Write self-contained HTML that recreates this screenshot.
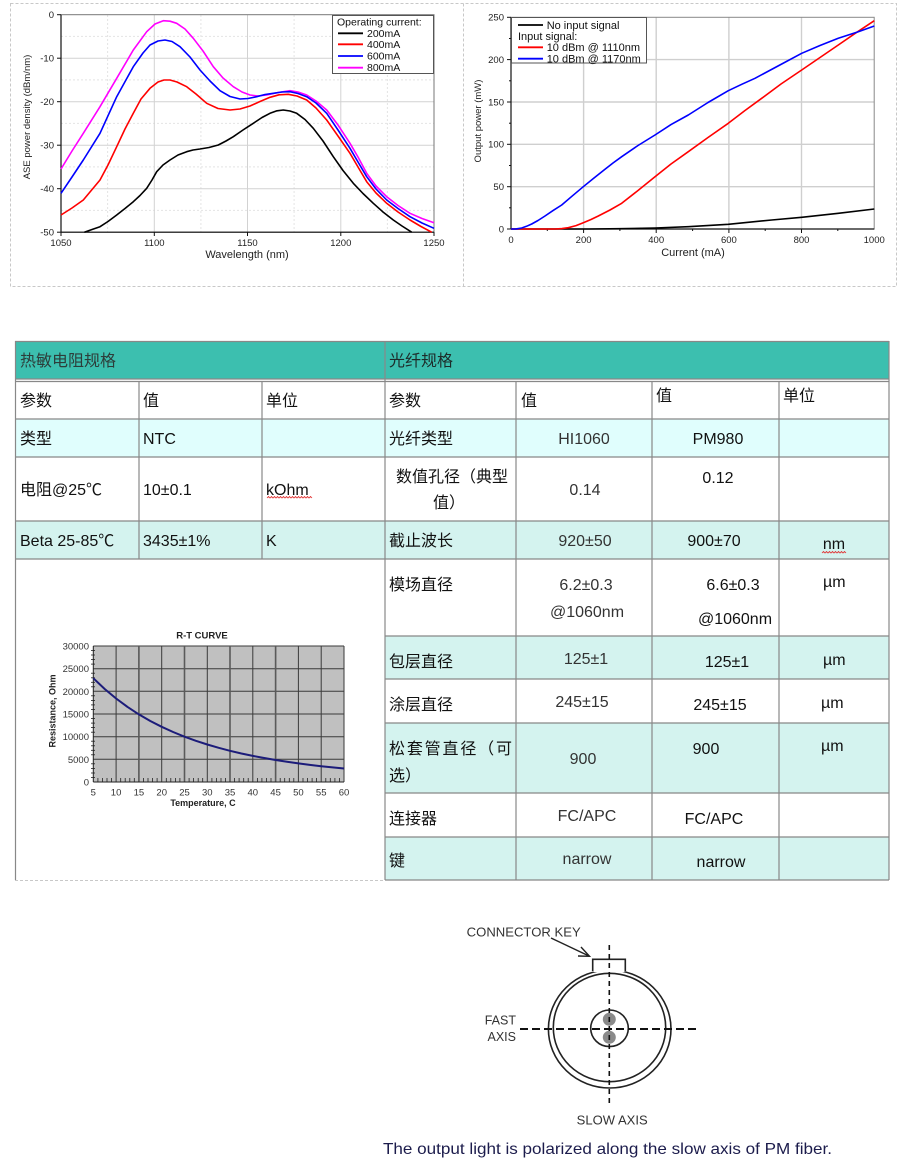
<!DOCTYPE html>
<html><head><meta charset="utf-8"><style>
html,body{margin:0;padding:0;background:#fff;}
svg{display:block;}
.t{font-family:"Liberation Sans","Noto Sans CJK SC",sans-serif;font-size:16px;fill:#111;}
.a{font-family:"Liberation Sans",Arial,sans-serif;}
</style></head><body>
<svg width="907" height="1169" viewBox="0 0 907 1169" xmlns="http://www.w3.org/2000/svg">
<!-- top dashed frame -->
<rect x="10.5" y="3.5" width="886" height="283" fill="none" stroke="#c8c8c8" stroke-dasharray="3,2"/>
<line x1="463.5" y1="3.5" x2="463.5" y2="286.5" stroke="#c8c8c8" stroke-dasharray="3,2"/>

<!-- ===== LEFT CHART ===== -->
<g stroke="#e4e4e4" stroke-width="1" stroke-dasharray="2,2">
<line x1="107.6" y1="15" x2="107.6" y2="232"/><line x1="200.9" y1="15" x2="200.9" y2="232"/>
<line x1="294.1" y1="15" x2="294.1" y2="232"/><line x1="387.4" y1="15" x2="387.4" y2="232"/>
<line x1="61" y1="36.4" x2="434" y2="36.4"/><line x1="61" y1="79.9" x2="434" y2="79.9"/>
<line x1="61" y1="123.4" x2="434" y2="123.4"/><line x1="61" y1="166.9" x2="434" y2="166.9"/>
<line x1="61" y1="210.4" x2="434" y2="210.4"/>
</g>
<g stroke="#d2d2d2" stroke-width="1">
<line x1="154.3" y1="15" x2="154.3" y2="232"/><line x1="247.5" y1="15" x2="247.5" y2="232"/>
<line x1="340.8" y1="15" x2="340.8" y2="232"/>
<line x1="61" y1="58.2" x2="434" y2="58.2"/><line x1="61" y1="101.7" x2="434" y2="101.7"/>
<line x1="61" y1="145.2" x2="434" y2="145.2"/><line x1="61" y1="188.7" x2="434" y2="188.7"/>
</g>
<rect x="61" y="14.7" width="373" height="217.5" fill="none" stroke="#777" stroke-width="1"/>
<line x1="61" y1="14.7" x2="61" y2="232.2" stroke="#111" stroke-width="1.2"/>
<line x1="61" y1="232.2" x2="434" y2="232.2" stroke="#111" stroke-width="1.2"/>
<g stroke="#111" stroke-width="1">
<line x1="154.3" y1="232" x2="154.3" y2="236"/><line x1="247.5" y1="232" x2="247.5" y2="236"/><line x1="340.8" y1="232" x2="340.8" y2="236"/><line x1="434" y1="232" x2="434" y2="236"/><line x1="61" y1="232" x2="61" y2="236"/>
<line x1="57" y1="14.7" x2="61" y2="14.7"/><line x1="57" y1="58.2" x2="61" y2="58.2"/><line x1="57" y1="101.7" x2="61" y2="101.7"/><line x1="57" y1="145.2" x2="61" y2="145.2"/><line x1="57" y1="188.7" x2="61" y2="188.7"/><line x1="57" y1="232.2" x2="61" y2="232.2"/>
</g>
<g class="a" font-size="9.5" fill="#222" text-anchor="end">
<text x="54" y="18">0</text><text x="54" y="61.5">-10</text><text x="54" y="105">-20</text>
<text x="54" y="148.5">-30</text><text x="54" y="192">-40</text><text x="54" y="235.5">-50</text>
</g>
<g class="a" font-size="9.5" fill="#222" text-anchor="middle">
<text x="61" y="246">1050</text><text x="154.3" y="246">1100</text><text x="247.5" y="246">1150</text>
<text x="340.8" y="246">1200</text><text x="434" y="246">1250</text>
</g>
<text class="a" x="247" y="258" font-size="11" fill="#222" text-anchor="middle">Wavelength (nm)</text>
<text class="a" transform="translate(30,117) rotate(-90)" font-size="9.5" fill="#222" text-anchor="middle">ASE power density (dBm/nm)</text>

<g fill="none" stroke-width="1.6" stroke-linejoin="round">
<polyline stroke="#ff00ff" points="61,169 72,151 83.3,133.3 100,106.7 116.7,78.3 133.3,50 146.7,31.7 155,24 163.3,20.7 170,21.2 176.7,23.3 185,29 193.3,38.3 203,51 213.3,66.7 223,78 233.3,86.7 242,92 250,95 258,96 266.7,95 278,92.5 290,90.7 298,92 306.7,95 316,101 326.7,110 338,125 350,143.3 358,157 366.7,173.3 376,186 386.7,196.7 398,205.5 410,213.3 422,218.5 434,222.7"/>
<polyline stroke="#0000ff" points="61,193.3 72,177 83.3,160 100,133.3 116.7,96.7 133.3,66.7 143,53 150,45 158,41 165,40 172,41.5 180,46.7 190,57 200,70 210,81 220,90.7 230,96.5 240,99 248,98.5 256.7,96.7 265,94.5 273.3,93.3 282,92 290,91.7 298,93.5 306.7,96.7 316,103 326.7,113.3 338,130 350,148.3 358,162 366.7,176.7 376,189 386.7,200 398,208.5 410,216.7 422,223 434,228.3"/>
<polyline stroke="#ff0000" points="61,215 72,208 83.3,200 100,180 108,165 116.7,146.7 125,129 133.3,113.3 141,99 150,88.3 158,82 164,80 170,80 177,82 186.7,86.7 196,94 206.7,103.3 218,108.5 230,110 240,109 250,106 260,101.5 270,97.3 279,94.8 288.3,94.3 297,96 306.7,100 316,108 326.7,120 338,136 350,153.3 358,167 366.7,181.7 376,193 386.7,203.3 398,212 410,220 421,226.5 431.7,232.2"/>
<polyline stroke="#000" points="84.3,232.2 92,229.5 100,226.7 108,221.5 116.7,215 125,208.5 133.3,201.7 140,195.5 146.7,188.3 152,180 156.7,171.7 163,165 170,160 178,155 186.7,151.7 193,150 200,149 209,147.5 218.3,145 226,141 233.3,136.7 243,130 253.3,123.3 262,117.5 270,113.3 277,110.8 283.3,110 290,111 296.7,113.3 305,119.5 313.3,128.3 323,141 333.3,156.7 343,170.5 353.3,183.3 363,193.5 373.3,203.3 383,212 393.3,220 402,226 411.7,232.2"/>
</g>
<rect x="332.5" y="15.5" width="101" height="58" fill="#fff" stroke="#555" stroke-width="1"/>
<g class="a" font-size="10.5" fill="#111">
<text x="337" y="25.5">Operating current:</text>
<text x="367" y="37">200mA</text><text x="367" y="48">400mA</text>
<text x="367" y="59.5">600mA</text><text x="367" y="71">800mA</text>
</g>
<g stroke-width="1.8">
<line x1="338" y1="33.3" x2="363" y2="33.3" stroke="#000"/>
<line x1="338" y1="44.3" x2="363" y2="44.3" stroke="#ff0000"/>
<line x1="338" y1="56" x2="363" y2="56" stroke="#0000ff"/>
<line x1="338" y1="67.7" x2="363" y2="67.7" stroke="#ff00ff"/>
</g>

<!-- ===== RIGHT CHART ===== -->
<g stroke="#cfcfcf" stroke-width="1.4">
<line x1="583.6" y1="17.3" x2="583.6" y2="229"/><line x1="656.2" y1="17.3" x2="656.2" y2="229"/>
<line x1="728.9" y1="17.3" x2="728.9" y2="229"/><line x1="801.5" y1="17.3" x2="801.5" y2="229"/>
<line x1="511" y1="186.7" x2="874.2" y2="186.7"/><line x1="511" y1="144.3" x2="874.2" y2="144.3"/>
<line x1="511" y1="102" x2="874.2" y2="102"/><line x1="511" y1="59.6" x2="874.2" y2="59.6"/>
</g>
<rect x="511" y="17.3" width="363.2" height="211.7" fill="none" stroke="#888" stroke-width="1"/>
<line x1="511" y1="17.3" x2="511" y2="229" stroke="#111" stroke-width="1.2"/>
<line x1="511" y1="229" x2="874.2" y2="229" stroke="#111" stroke-width="1.2"/>
<g stroke="#111" stroke-width="1">
<line x1="547.3" y1="229" x2="547.3" y2="231"/><line x1="583.6" y1="229" x2="583.6" y2="233"/><line x1="619.9" y1="229" x2="619.9" y2="231"/><line x1="656.2" y1="229" x2="656.2" y2="233"/><line x1="692.6" y1="229" x2="692.6" y2="231"/><line x1="728.9" y1="229" x2="728.9" y2="233"/><line x1="765.2" y1="229" x2="765.2" y2="231"/><line x1="801.5" y1="229" x2="801.5" y2="233"/><line x1="837.8" y1="229" x2="837.8" y2="231"/>
<line x1="507" y1="17.3" x2="511" y2="17.3"/><line x1="507" y1="59.6" x2="511" y2="59.6"/><line x1="507" y1="102" x2="511" y2="102"/><line x1="507" y1="144.3" x2="511" y2="144.3"/><line x1="507" y1="186.7" x2="511" y2="186.7"/><line x1="507" y1="229" x2="511" y2="229"/>
<line x1="509" y1="38.5" x2="511" y2="38.5"/><line x1="509" y1="80.8" x2="511" y2="80.8"/><line x1="509" y1="123.2" x2="511" y2="123.2"/><line x1="509" y1="165.5" x2="511" y2="165.5"/><line x1="509" y1="207.8" x2="511" y2="207.8"/>
</g>
<g class="a" font-size="9.5" fill="#222" text-anchor="end">
<text x="504" y="20.5">250</text><text x="504" y="63">200</text><text x="504" y="105.5">150</text>
<text x="504" y="147.5">100</text><text x="504" y="190">50</text><text x="504" y="232.5">0</text>
</g>
<g class="a" font-size="9.5" fill="#222" text-anchor="middle">
<text x="511" y="243">0</text><text x="583.6" y="243">200</text><text x="656.2" y="243">400</text>
<text x="728.9" y="243">600</text><text x="801.5" y="243">800</text><text x="874.2" y="243">1000</text>
</g>
<text class="a" x="693" y="256" font-size="11" fill="#222" text-anchor="middle">Current (mA)</text>
<text class="a" transform="translate(481,121) rotate(-90)" font-size="9.5" fill="#222" text-anchor="middle">Output power (mW)</text>
<g fill="none" stroke-width="1.6" stroke-linejoin="round">
<polyline stroke="#000" points="511,229 588.3,229 620,228.7 655,228 688.3,226.7 728.3,224.3 771.7,220 801.7,217.3 838.3,213.3 874.3,209"/>
<polyline stroke="#ff0000" points="511,229 555,229 562,228.6 568.3,227.7 576,225.6 583.3,222.7 591,219.5 598.3,216 610,210 621.7,203.3 638,190.5 655,176.7 671,164 688.3,151.7 708,137.5 728.3,123.3 745,110.5 761.7,98.3 781,84 801.7,70 820,57.5 838.3,45 856,32.8 874.3,20.7"/>
<polyline stroke="#0000ff" points="511,229 516,228.9 521.7,228 526.5,226.3 531.7,224 538,220.5 545,216 553,210.6 561.7,205 572,196.2 583.3,186.7 594,178 605,169.3 613,163 621.7,156.7 638,145.5 655,135 671,124.6 688.3,115 708,102.5 728.3,90.7 742,84.2 755,78.3 778,66 801.7,53.3 820,45.5 838.3,38.3 858.3,31.7 874.3,26"/>
</g>
<rect x="511.5" y="17.5" width="135" height="45.5" fill="#fff" stroke="#555" stroke-width="1"/>
<g class="a" font-size="11" fill="#111">
<text x="546.7" y="28.8">No input signal</text>
<text x="518" y="40">Input signal:</text>
<text x="546.7" y="51.2">10 dBm @ 1110nm</text>
<text x="546.7" y="62.5">10 dBm @ 1170nm</text>
</g>
<g stroke-width="1.8">
<line x1="518" y1="25" x2="543" y2="25" stroke="#000"/>
<line x1="518" y1="47.3" x2="543" y2="47.3" stroke="#ff0000"/>
<line x1="518" y1="58.7" x2="543" y2="58.7" stroke="#0000ff"/>
</g>

<!-- ===== TABLE ===== -->
<rect x="15" y="341" width="874" height="38" fill="#3cbfaf"/>
<rect x="15" y="419" width="874" height="38" fill="#e0fefd"/>
<rect x="15" y="521" width="874" height="38" fill="#d4f3ef"/>
<rect x="385" y="636" width="504" height="43" fill="#d4f3ef"/>
<rect x="385" y="723" width="504" height="70" fill="#d4f3ef"/>
<rect x="385" y="837" width="504" height="43" fill="#d4f3ef"/>
<g stroke="#888" stroke-width="1.2">
<line x1="15" y1="341.5" x2="889" y2="341.5"/>
<line x1="15" y1="379" x2="889" y2="379"/>
<line x1="15" y1="381.5" x2="889" y2="381.5"/>
<line x1="15" y1="419" x2="889" y2="419"/>
<line x1="15" y1="457" x2="889" y2="457"/>
<line x1="15" y1="521" x2="889" y2="521"/>
<line x1="15" y1="559" x2="889" y2="559"/>
<line x1="385" y1="636" x2="889" y2="636"/>
<line x1="385" y1="679" x2="889" y2="679"/>
<line x1="385" y1="723" x2="889" y2="723"/>
<line x1="385" y1="793" x2="889" y2="793"/>
<line x1="385" y1="837" x2="889" y2="837"/>
<line x1="385" y1="880" x2="889" y2="880"/>
<line x1="15.5" y1="341" x2="15.5" y2="880"/>
<line x1="385" y1="341" x2="385" y2="880"/>
<line x1="889" y1="341" x2="889" y2="880"/>
<line x1="139" y1="381" x2="139" y2="559"/>
<line x1="262" y1="381" x2="262" y2="559"/>
<line x1="516" y1="381" x2="516" y2="880"/>
<line x1="652" y1="381" x2="652" y2="880"/>
<line x1="779" y1="381" x2="779" y2="880"/>
</g>
<line x1="15" y1="880.5" x2="385" y2="880.5" stroke="#c8c8c8" stroke-dasharray="3,2"/>

<g class="t">
<text x="20" y="366" fill="#2d3d3a">热敏电阻规格</text>
<text x="389" y="366" fill="#1d2b29">光纤规格</text>
<text x="20" y="406">参数</text><text x="143" y="406">值</text><text x="266" y="406">单位</text>
<text x="389" y="406">参数</text><text x="521" y="406">值</text><text x="656" y="401">值</text><text x="783" y="401">单位</text>
<text x="20" y="444">类型</text><text x="143" y="444">NTC</text><text x="389" y="444">光纤类型</text>
<text x="584" y="444" text-anchor="middle" fill="#333">HI1060</text>
<text x="718" y="444" text-anchor="middle">PM980</text>
<text x="20" y="495">电阻@25℃</text><text x="143" y="495">10±0.1</text><text x="266" y="495">kOhm</text>
<text x="452" y="482" text-anchor="middle">数值孔径（典型</text>
<text x="449" y="508" text-anchor="middle">值）</text>
<text x="585" y="495" text-anchor="middle" fill="#333">0.14</text>
<text x="718" y="483" text-anchor="middle">0.12</text>
<text x="20" y="546">Beta  25-85℃</text><text x="143" y="546">3435±1%</text><text x="266" y="546">K</text>
<text x="389" y="546">截止波长</text>
<text x="585" y="546" text-anchor="middle" fill="#333">920±50</text>
<text x="714" y="546" text-anchor="middle">900±70</text>
<text x="834" y="549" text-anchor="middle">nm</text>
<text x="389" y="590">模场直径</text>
<text x="586" y="590" text-anchor="middle" fill="#333">6.2±0.3</text>
<text x="587" y="617" text-anchor="middle" fill="#333">@1060nm</text>
<text x="733" y="590" text-anchor="middle">6.6±0.3</text>
<text x="735" y="624" text-anchor="middle">@1060nm</text>
<text x="823" y="587">µm</text>
<text x="389" y="667">包层直径</text>
<text x="586" y="664" text-anchor="middle" fill="#333">125±1</text>
<text x="727" y="667" text-anchor="middle">125±1</text>
<text x="823" y="665">µm</text>
<text x="389" y="710">涂层直径</text>
<text x="582" y="707" text-anchor="middle" fill="#333">245±15</text>
<text x="720" y="710" text-anchor="middle">245±15</text>
<text x="821" y="708">µm</text>
<text x="389" y="754" textLength="123" lengthAdjust="spacing">松套管直径（可</text>
<text x="389" y="781">选）</text>
<text x="583" y="764" text-anchor="middle" fill="#333">900</text>
<text x="706" y="754" text-anchor="middle">900</text>
<text x="821" y="751">µm</text>
<text x="389" y="824">连接器</text>
<text x="587" y="821" text-anchor="middle" fill="#333">FC/APC</text>
<text x="714" y="824" text-anchor="middle">FC/APC</text>
<text x="389" y="866">键</text>
<text x="587" y="864" text-anchor="middle" fill="#333">narrow</text>
<text x="721" y="867" text-anchor="middle">narrow</text>
</g>
<!-- spell squiggles -->
<polyline fill="none" stroke="#e03030" stroke-width="0.8" points="267,498 268.5,496.5 270,498 271.5,496.5 273,498 274.5,496.5 276,498 277.5,496.5 279,498 280.5,496.5 282,498 283.5,496.5 285,498 286.5,496.5 288,498 289.5,496.5 291,498 292.5,496.5 294,498 295.5,496.5 297,498 298.5,496.5 300,498 301.5,496.5 303,498 304.5,496.5 306,498 307.5,496.5 309,498 310.5,496.5 312,498"/>
<polyline fill="none" stroke="#e03030" stroke-width="0.8" points="822,553 823.5,551.5 825,553 826.5,551.5 828,553 829.5,551.5 831,553 832.5,551.5 834,553 835.5,551.5 837,553 838.5,551.5 840,553 841.5,551.5 843,553 844.5,551.5 846,553"/>

<!-- ===== R-T CURVE ===== -->
<rect x="93.3" y="646" width="250.7" height="136" fill="#c0c0c0"/>
<g stroke="#3a3a3a" stroke-width="1">
<line x1="116.1" y1="646" x2="116.1" y2="782"/><line x1="138.9" y1="646" x2="138.9" y2="782"/>
<line x1="161.7" y1="646" x2="161.7" y2="782"/><line x1="184.5" y1="646" x2="184.5" y2="782"/>
<line x1="207.3" y1="646" x2="207.3" y2="782"/><line x1="230" y1="646" x2="230" y2="782"/>
<line x1="252.8" y1="646" x2="252.8" y2="782"/><line x1="275.6" y1="646" x2="275.6" y2="782"/>
<line x1="298.4" y1="646" x2="298.4" y2="782"/><line x1="321.2" y1="646" x2="321.2" y2="782"/>
<line x1="344" y1="646" x2="344" y2="782"/>
<line x1="93.3" y1="646" x2="344" y2="646"/><line x1="93.3" y1="668.7" x2="344" y2="668.7"/>
<line x1="93.3" y1="691.3" x2="344" y2="691.3"/><line x1="93.3" y1="714" x2="344" y2="714"/>
<line x1="93.3" y1="736.7" x2="344" y2="736.7"/><line x1="93.3" y1="759.3" x2="344" y2="759.3"/>
</g>
<g stroke="#5a5a5a" stroke-width="1.6">
<line x1="138.9" y1="646" x2="138.9" y2="782"/><line x1="184.5" y1="646" x2="184.5" y2="782"/>
<line x1="230" y1="646" x2="230" y2="782"/><line x1="275.6" y1="646" x2="275.6" y2="782"/>
</g>
<line x1="93.3" y1="646" x2="93.3" y2="782" stroke="#222" stroke-width="1"/>
<line x1="93.3" y1="782" x2="344" y2="782" stroke="#222" stroke-width="1"/>
<g stroke="#222" stroke-width="0.8">
<line x1="91" y1="650.5" x2="95" y2="650.5"/><line x1="91" y1="655" x2="95" y2="655"/><line x1="91" y1="659.6" x2="95" y2="659.6"/><line x1="91" y1="664.1" x2="95" y2="664.1"/>
<line x1="91" y1="673.2" x2="95" y2="673.2"/><line x1="91" y1="677.8" x2="95" y2="677.8"/><line x1="91" y1="682.3" x2="95" y2="682.3"/><line x1="91" y1="686.8" x2="95" y2="686.8"/>
<line x1="91" y1="695.8" x2="95" y2="695.8"/><line x1="91" y1="700.4" x2="95" y2="700.4"/><line x1="91" y1="704.9" x2="95" y2="704.9"/><line x1="91" y1="709.5" x2="95" y2="709.5"/>
<line x1="91" y1="718.5" x2="95" y2="718.5"/><line x1="91" y1="723.1" x2="95" y2="723.1"/><line x1="91" y1="727.6" x2="95" y2="727.6"/><line x1="91" y1="732.2" x2="95" y2="732.2"/>
<line x1="91" y1="741.2" x2="95" y2="741.2"/><line x1="91" y1="745.8" x2="95" y2="745.8"/><line x1="91" y1="750.3" x2="95" y2="750.3"/><line x1="91" y1="754.8" x2="95" y2="754.8"/>
<line x1="91" y1="763.8" x2="95" y2="763.8"/><line x1="91" y1="768.4" x2="95" y2="768.4"/><line x1="91" y1="773" x2="95" y2="773"/><line x1="91" y1="777.5" x2="95" y2="777.5"/>
</g>
<g stroke="#222" stroke-width="0.8">
<path d="M97.9,782v-4M102.4,782v-4M107,782v-4M111.5,782v-4M120.7,782v-4M125.2,782v-4M129.8,782v-4M134.3,782v-4M143.5,782v-4M148,782v-4M152.6,782v-4M157.1,782v-4M166.3,782v-4M170.8,782v-4M175.4,782v-4M179.9,782v-4M189.1,782v-4M193.6,782v-4M198.2,782v-4M202.7,782v-4M211.9,782v-4M216.4,782v-4M221,782v-4M225.5,782v-4M234.6,782v-4M239.1,782v-4M243.7,782v-4M248.2,782v-4M257.4,782v-4M261.9,782v-4M266.5,782v-4M271,782v-4M280.2,782v-4M284.7,782v-4M289.3,782v-4M293.8,782v-4M303,782v-4M307.5,782v-4M312.1,782v-4M316.6,782v-4M325.8,782v-4M330.3,782v-4M334.9,782v-4M339.4,782v-4"/>
</g>
<polyline fill="none" stroke="#1c1c7a" stroke-width="2" stroke-linejoin="round" points="93.3,678.2 104.7,689 116.1,698.5 127.5,706.9 138.9,714.4 150.3,721 161.7,726.8 173.1,732 184.5,736.7 195.9,740.8 207.3,744.5 218.7,747.8 230,750.8 241.4,753.5 252.8,755.9 264.2,758 275.6,760 287,761.8 298.4,763.4 309.8,764.9 321.2,766.2 332.6,767.4 344,768.5"/>
<g class="a" font-size="9.5" fill="#333" text-anchor="end">
<text x="89" y="649.5">30000</text><text x="89" y="672">25000</text><text x="89" y="694.8">20000</text>
<text x="89" y="717.5">15000</text><text x="89" y="740">10000</text><text x="89" y="762.8">5000</text><text x="89" y="785.5">0</text>
</g>
<g class="a" font-size="9.5" fill="#333" text-anchor="middle">
<text x="93.3" y="795.5">5</text><text x="116.1" y="795.5">10</text><text x="138.9" y="795.5">15</text>
<text x="161.7" y="795.5">20</text><text x="184.5" y="795.5">25</text><text x="207.3" y="795.5">30</text>
<text x="230" y="795.5">35</text><text x="252.8" y="795.5">40</text><text x="275.6" y="795.5">45</text>
<text x="298.4" y="795.5">50</text><text x="321.2" y="795.5">55</text><text x="344" y="795.5">60</text>
</g>
<text class="a" x="202" y="638.5" font-size="9.5" font-weight="bold" fill="#222" text-anchor="middle">R-T CURVE</text>
<text class="a" x="203" y="806" font-size="9" font-weight="bold" fill="#222" text-anchor="middle">Temperature,  C</text>
<text class="a" transform="translate(55.5,711) rotate(-90)" font-size="9" font-weight="bold" fill="#222" text-anchor="middle">Resistance,  Ohm</text>

<!-- ===== PM FIBER DIAGRAM ===== -->
<g fill="none" stroke="#222" stroke-width="1.6">
<ellipse cx="609.7" cy="1029" rx="61.3" ry="59"/>
<ellipse cx="609.5" cy="1027.5" rx="56.2" ry="54.2"/>
<ellipse cx="609.5" cy="1028.3" rx="18.8" ry="18.3"/>
</g>
<rect x="593.5" y="966" width="31" height="6" fill="#fff"/>
<path d="M592.7,971 V959.3 H625.3 V971" fill="none" stroke="#222" stroke-width="1.6"/>
<circle cx="609.3" cy="1019.3" r="6.5" fill="#8a8a8a"/>
<circle cx="609.3" cy="1037.3" r="6.5" fill="#8a8a8a"/>
<line x1="520" y1="1029" x2="700" y2="1029" stroke="#111" stroke-width="2" stroke-dasharray="8,4"/>
<line x1="609.3" y1="945" x2="609.3" y2="1107" stroke="#111" stroke-width="1.6" stroke-dasharray="5,4"/>
<g stroke="#222" stroke-width="1.4" fill="none">
<line x1="551" y1="938" x2="589" y2="956"/>
<polyline points="581,947 589.5,956.3 578,956"/>
</g>
<g class="a" fill="#333">
<text x="466.7" y="936.3" font-size="12.5" textLength="114" lengthAdjust="spacingAndGlyphs">CONNECTOR KEY</text>
<text x="516" y="1024.5" font-size="12.5" text-anchor="end">FAST</text>
<text x="516" y="1041" font-size="12.5" text-anchor="end">AXIS</text>
<text x="576.7" y="1124.5" font-size="12.5" textLength="71" lengthAdjust="spacingAndGlyphs">SLOW AXIS</text>
</g>
<text class="a" x="383" y="1154" font-size="16" fill="#1c1c4c" textLength="449" lengthAdjust="spacingAndGlyphs">The output light is polarized along the slow axis of PM fiber.</text>
</svg>
</body></html>
